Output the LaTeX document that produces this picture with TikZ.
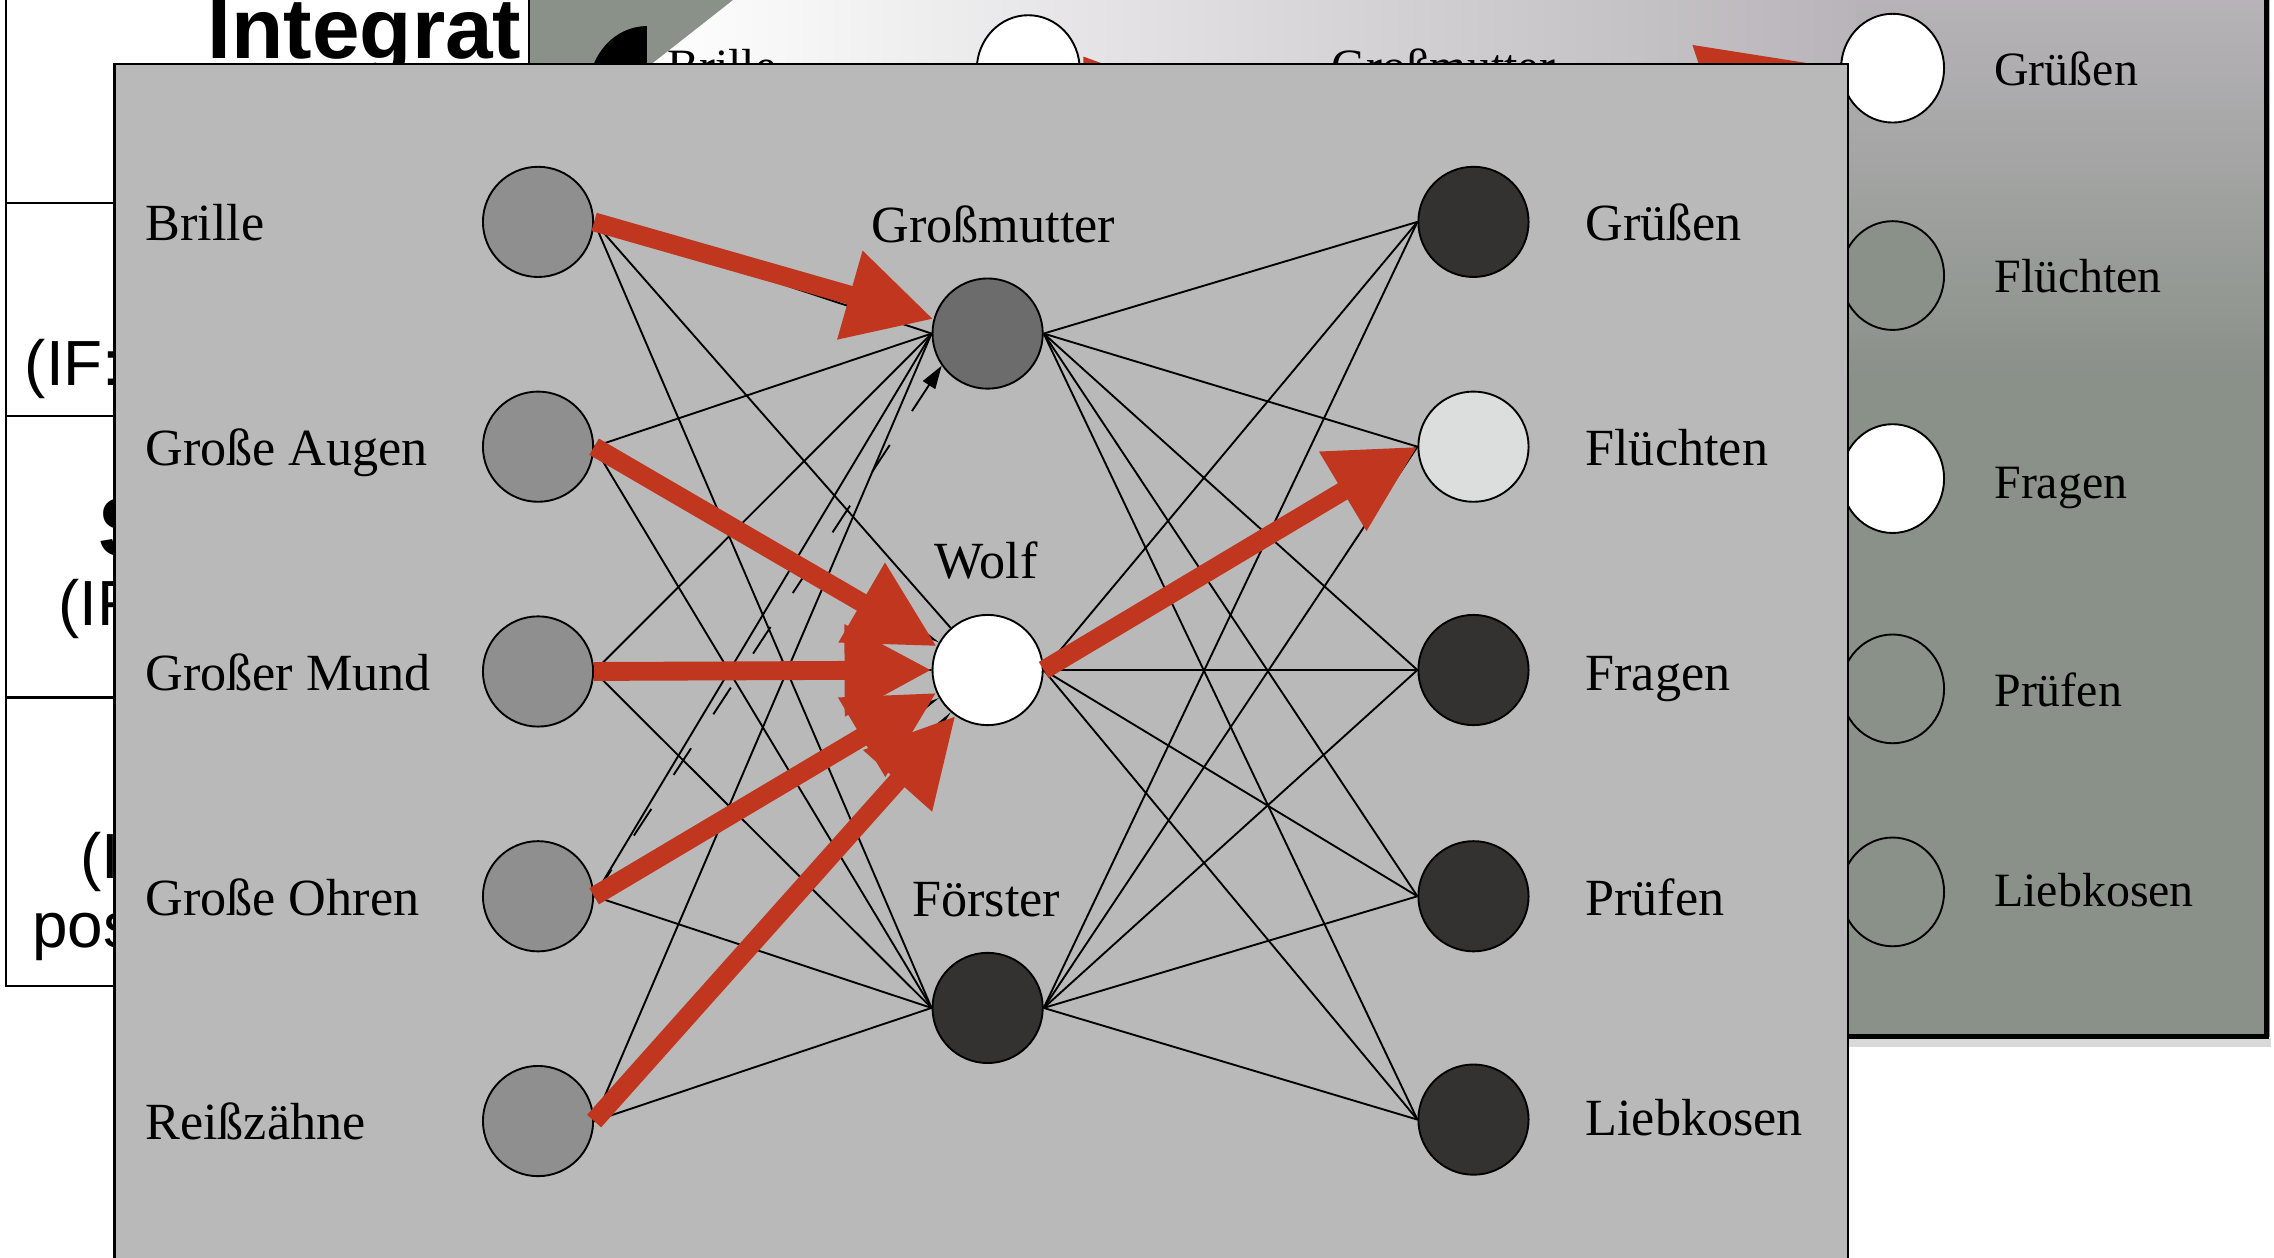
\documentclass[tikz,border=0pt]{standalone}
\usepackage{fontspec}
\setmainfont{Liberation Serif}
\newfontfamily\arialf{Liberation Sans}
\usetikzlibrary{arrows.meta,shapes.geometric}
\definecolor{redarr}{HTML}{C0361F}
\definecolor{frontbg}{HTML}{B9B9B9}
\definecolor{backbg}{HTML}{8A9189}
\definecolor{backtop}{HTML}{B8B4B9}
\definecolor{lgray}{HTML}{8F8F8F}
\definecolor{gmgray}{HTML}{6C6C6C}
\definecolor{darkn}{HTML}{343131}
\definecolor{flight}{HTML}{DCDDDD}
\begin{document}
\begin{tikzpicture}[x=1pt,y=-1pt,
  neuron/.style={circle,draw=black,line width=1.3pt,inner sep=0pt,minimum size=76pt},
  bneuron/.style={ellipse,draw=black,line width=1.3pt,inner sep=0pt,minimum width=71pt,minimum height=75pt},
  lbl/.style={font=\fontsize{36}{36}\selectfont,inner sep=0pt,anchor=base west},
  mlbl/.style={font=\fontsize{36}{36}\selectfont,inner sep=0pt,anchor=base},
  blbl/.style={font=\fontsize{33}{33}\selectfont,inner sep=0pt,anchor=base west},
  wire/.style={line width=1.3pt},
  tipwire/.style={line width=1.3pt,-{Stealth[length=18pt,width=6pt]}},
  redarrow/.style={draw=redarr,line width=13pt,-{Triangle[length=60pt,width=60pt]}},
  sidetxt/.style={font=\arialf\fontsize{44}{44}\selectfont,inner sep=0pt,anchor=base west},
  tablerule/.style={line width=1.5pt},
]
\fill[white] (0,0) rectangle (1568,867);
\useasboundingbox (0,0) rectangle (1568,867);

% slide table behind
\draw[tablerule] (4,0) -- (4,680) -- (90,680);
\draw[tablerule] (4,140) -- (90,140);
\draw[tablerule] (4,287) -- (90,287);
\draw[tablerule] (4,481) -- (90,481);
\node[font=\arialf\bfseries\fontsize{59}{59}\selectfont,inner sep=0pt,anchor=base west] (title) at (143,40) {Integrat};
\node[sidetxt] (s1) at (17,266) {(IF:};
\node[font=\arialf\bfseries\fontsize{58}{58}\selectfont,inner sep=0pt,anchor=base west] (s2) at (68,384) {S};
\node[sidetxt] (s3) at (40,431) {(IF};
\node[sidetxt] (s4) at (55,606) {(I};
\node[sidetxt] (s5) at (22,653) {pos};

% back screenshot
\fill[backbg] (365,-5) rectangle (1565,715);
\shade[top color=backtop, bottom color=backbg] (365,-5) rectangle (1565,260);
\fill[backbg] (365,-5) -- (512,-5) -- (447,46) -- (365,46) -- cycle;
\shade[left color=white, right color=backtop] (447,46) -- (512,-5) -- (1280,-5) -- (1280,46) -- cycle;
\begin{scope}
  \clip (380,0) rectangle (446,60);
  \fill[black] (446,62) ellipse [x radius=40, y radius=44];
\end{scope}
\node[bneuron,fill=white] (bm1) at (709,48) {};
\node[blbl] (bt1) at (460,57) {Brille};
\node[blbl] (bt2) at (918,57) {Großmutter};
\fill[redarr] (747,39) -- (766,46) -- (747,46) -- cycle;
\fill[redarr] (1167,31) -- (1262,46) -- (1172,46) -- cycle;
\node[bneuron,fill=white] (br1) at (1305,47) {};
\node[bneuron,fill=backbg] (br2) at (1305,190) {};
\node[bneuron,fill=white] (br3) at (1305,330) {};
\node[bneuron,fill=backbg] (br4) at (1305,475) {};
\node[bneuron,fill=backbg] (br5) at (1305,615) {};
\node[blbl] (bl1) at (1375,59) {Grüßen};
\node[blbl] (bl2) at (1375,202) {Flüchten};
\node[blbl] (bl3) at (1375,344) {Fragen};
\node[blbl] (bl4) at (1375,487) {Prüfen};
\node[blbl] (bl5) at (1375,625) {Liebkosen};
\fill[black!15] (1274,716) rectangle (1566,722);
\draw[line width=1.5pt] (365,-5) -- (365,715);
\draw[line width=3.5pt] (1563,-5) -- (1563,715) -- (365,715);

% front screenshot
\draw[fill=frontbg, line width=1.5pt] (79,44) rectangle (1274,880);

\node[neuron,fill=lgray] (l1) at (371,153) {};
\node[neuron,fill=lgray] (l2) at (371,308) {};
\node[neuron,fill=lgray] (l3) at (371,463) {};
\node[neuron,fill=lgray] (l4) at (371,618) {};
\node[neuron,fill=lgray] (l5) at (371,773) {};
\node[neuron,fill=gmgray] (m1) at (681,230) {};
\node[neuron,fill=white] (m2) at (681,462) {};
\node[neuron,fill=darkn] (m3) at (681,695) {};
\node[neuron,fill=darkn] (r1) at (1016,153) {};
\node[neuron,fill=flight] (r2) at (1016,308) {};
\node[neuron,fill=darkn] (r3) at (1016,462) {};
\node[neuron,fill=darkn] (r4) at (1016,618) {};
\node[neuron,fill=darkn] (r5) at (1016,772) {};

\node[lbl] (tl1) at (100,166) {Brille};
\node[lbl] (tl2) at (100,321) {Große Augen};
\node[lbl] (tl3) at (100,476) {Großer Mund};
\node[lbl] (tl4) at (100,631) {Große Ohren};
\node[lbl] (tl5) at (100,786) {Reißzähne};
\node[mlbl] (tm1) at (685,167) {Großmutter};
\node[mlbl] (tm2) at (680,399) {Wolf};
\node[mlbl] (tm3) at (680,632) {Förster};
\node[lbl] (tr1) at (1093,166) {Grüßen};
\node[lbl] (tr2) at (1093,321) {Flüchten};
\node[lbl] (tr3) at (1093,476) {Fragen};
\node[lbl] (tr4) at (1093,631) {Prüfen};
\node[lbl] (tr5) at (1093,783) {Liebkosen};

% thin connections
\foreach \i in {1,...,5}{
  \draw[wire] (l\i.east) -- (m1.west);
  \draw[wire] (l\i.east) -- (m3.west);
}
\draw[wire] (l1.east) -- (m2);
\draw[tipwire] (l2.east) -- (m2);
\draw[wire] (l3.east) -- (m2.west);
\draw[tipwire] (l4.east) -- (m2);
\draw[tipwire] (l5.east) -- (m2);
\foreach \j in {1,2,3}{
  \foreach \k in {1,...,5}{
    \draw[wire] (m\j.east) -- (r\k.west);
  }
}
\draw[wire,dash pattern=on 22pt off 28pt,-{Triangle[length=16pt,width=10pt]}] (l4.east) -- (m1.215);

% red arrows
\draw[redarrow] (l1.east) -- (m1.165);
\draw[redarrow] (l2.east) -- (m2.155);
\draw[redarrow] (l3.east) -- (m2.west);
\draw[redarrow] (l4.east) -- (m2.204);
\draw[redarrow] (l5.east) -- (m2.235);
\draw[redarrow] (m2.east) -- (r2.west);
\end{tikzpicture}
\end{document}
